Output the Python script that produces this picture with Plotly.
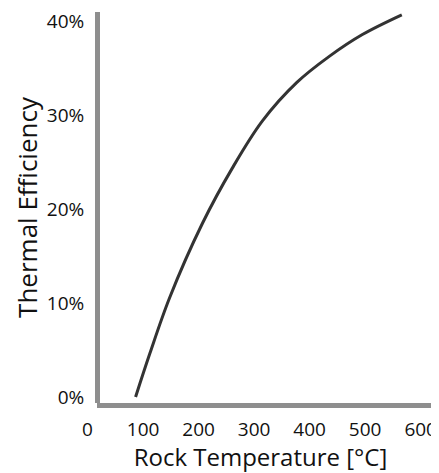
import plotly.graph_objects as go

# Data
rock_temp_c = [86.5, 112, 148, 207, 261, 315, 377, 436, 495, 566]
thermal_eff = [0.0, 0.046, 0.106, 0.185, 0.244, 0.294, 0.335, 0.363, 0.386, 0.407]

x_ticks = [0, 100, 200, 300, 400, 500, 600]
y_ticks = [0.0, 0.1, 0.2, 0.3, 0.4]

# the page body has an 8px margin, so the figure is sized to the visible remainder
W, H = 431, 465
FONT = "Open Sans"
AXIS_COLOR = "#8e8e8e"

fig = go.Figure()
fig.add_trace(go.Scatter(
    x=rock_temp_c, y=thermal_eff, mode="lines",
    line=dict(color="#333333", width=3, shape="spline", smoothing=1.0),
    showlegend=False, hoverinfo="skip",
))
# transparent copy on the second x axis so that its axis line (starting at the y axis) is drawn
fig.add_trace(go.Scatter(
    x=rock_temp_c, y=thermal_eff, mode="lines", xaxis="x2",
    line=dict(color="rgba(0,0,0,0)", width=0),
    showlegend=False, hoverinfo="skip",
))

fig.update_layout(
    width=W, height=H,
    margin=dict(l=74.45, r=0, t=4.46, b=70),
    paper_bgcolor="white", plot_bgcolor="rgba(0,0,0,0)",
    font=dict(family=FONT, size=19, color="#111111"),
    xaxis=dict(
        domain=[0, 1], range=[-10, 633], automargin=False,
        tickvals=x_ticks, showline=False, showgrid=False, zeroline=False,
        ticks="outside", ticklen=9, tickcolor="rgba(0,0,0,0)",
        tickfont=dict(size=19), ticklabeloverflow="allow",
        title=dict(text="Rock Temperature [°C]", font=dict(size=24), standoff=2),
    ),
    xaxis2=dict(
        domain=[0.0408, 1], range=[16.2, 633], anchor="y", automargin=False,
        showline=True, linecolor=AXIS_COLOR, linewidth=5,
        showticklabels=False, showgrid=False, zeroline=False, ticks="",
    ),
    yaxis=dict(
        anchor="free", position=0.0408, range=[-0.0064, 0.410], automargin=False,
        tickvals=y_ticks, tickformat=".0%", ticklabeloverflow="allow",
        showline=True, linecolor=AXIS_COLOR, linewidth=5,
        showgrid=False, zeroline=False,
        ticks="outside", ticklen=6.5, tickcolor="rgba(0,0,0,0)",
        tickfont=dict(size=19),
        title=dict(text="Thermal Efficiency", font=dict(size=26), standoff=0),
    ),
)

fig.write_html("out.html")
